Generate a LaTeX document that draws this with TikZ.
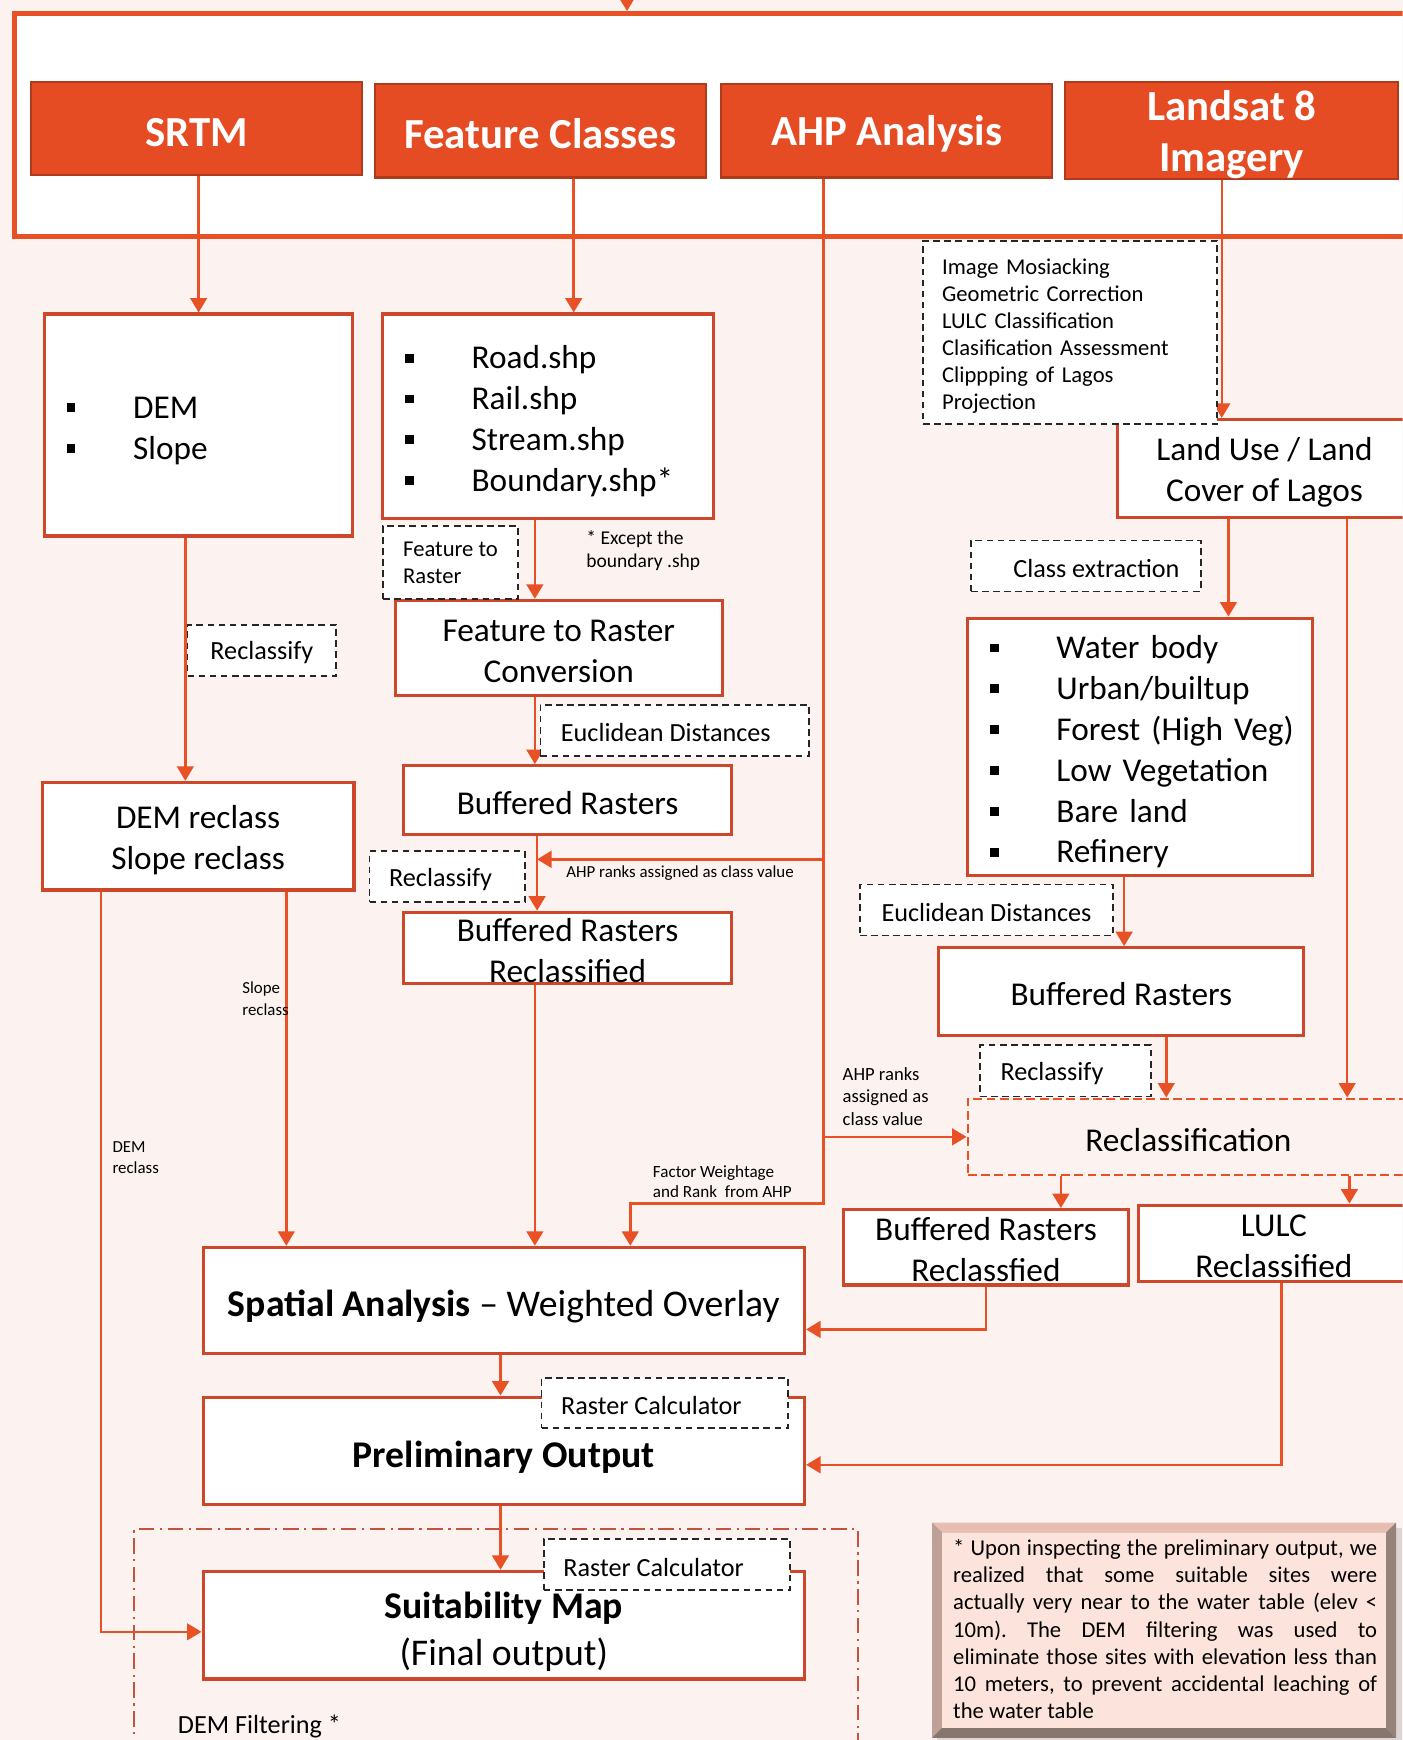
\documentclass[tikz,border=0pt]{standalone}
\usepackage{fontspec}
\setmainfont{Carlito}
\usetikzlibrary{arrows.meta,calc}
\definecolor{bg}{RGB}{252,243,241}
\definecolor{org}{RGB}{232,80,38}
\definecolor{hdr}{RGB}{230,76,35}
\definecolor{hdrd}{RGB}{175,58,28}
\definecolor{bord}{RGB}{205,72,42}
\definecolor{ddk}{RGB}{196,82,60}
\definecolor{notefill}{RGB}{252,228,220}
\newcommand\mysq{\makebox[30pt][l]{\rule[2.8pt]{4pt}{4pt}}}
\newcommand\upst[1]{\rule{0pt}{#1}}
\begin{document}
\begin{tikzpicture}[x=0.5pt,y=-0.5pt,
  spanbox/.style args={#1/#2/#3/#4}{at={({(#1+#3)/2},{(#2+#4)/2})}, minimum width={(#3-#1)*0.5pt}, minimum height={(#4-#2)*0.5pt}},
  hdrbox/.style={draw=hdrd, line width=1pt, fill=hdr, text=white, inner sep=0pt, align=center, font=\bfseries\fontsize{19.3}{23}\selectfont, execute at begin node={\rule{0pt}{16pt}}},
  box/.style={draw=bord, line width=1.4pt, fill=white, inner sep=0pt, align=center, font=\fontsize{15}{18.5}\selectfont, execute at begin node={\rule{0pt}{13pt}}},
  bigbox/.style={box, font=\fontsize{17}{21}\selectfont, execute at begin node={\rule{0pt}{17.5pt}}},
  listbox/.style={draw=bord, line width=1.4pt, fill=white, inner xsep=10pt, inner ysep=0pt, align=left, font=\fontsize{15}{18.4}\selectfont, execute at begin node={\rule{0pt}{15pt}}},
  recbox/.style={draw=org, line width=1pt, dash pattern=on 4pt off 2pt, inner sep=0pt, align=center, font=\fontsize{15}{18.5}\selectfont, execute at begin node={\rule{0pt}{13pt}}},
  dbox/.style={draw=black!85, line width=0.8pt, dash pattern=on 3pt off 2pt, fill=white, inner sep=0pt, align=center, font=\fontsize{11.8}{14}\selectfont, execute at begin node={\rule{0pt}{10.3pt}}},
  ddrect/.style={draw=ddk, line width=1pt, dash pattern=on 7pt off 2.5pt on 1pt off 2.5pt, inner sep=0pt},
  lab/.style={inner sep=0pt, align=left, anchor=west},
  conn/.style={draw=org, line width=1.1pt},
  arr/.style={conn, -{Triangle[length=6.5pt,width=7.5pt]}}
]
\path[use as bounding box, fill=bg] (0,0) rectangle (1264,1568);
\clip (0,0) rectangle (1264,1568);

% frame and headers
\node[draw=org, line width=2pt, fill=white, inner sep=0pt, spanbox=13/12/1285/213] (frame) {};
\node[hdrbox, spanbox=28/74/326/158, execute at begin node={\rule{0pt}{15pt}}] (srtm) {SRTM};
\node[hdrbox, spanbox=338/76/636/160] (fc) {Feature Classes};
\node[hdrbox, spanbox=650/76/948/160] (ahp) {AHP Analysis};
\node[hdrbox, spanbox=960/75/1260/160] (landsat) {\upst{17.5pt}Landsat 8\\Imagery};

% list boxes
\node[listbox, text width=119pt, minimum height=100pt, execute at begin node={\rule{0pt}{13pt}}] (dem) at (179,383) {\mysq DEM\\\mysq Slope};
\node[listbox, text width=129pt, minimum height=92pt] (feat) at (494,375) {\mysq Road.shp\\\mysq Rail.shp\\\mysq Stream.shp\\\mysq Boundary.shp*};
\node[listbox, text width=135.5pt, minimum height=116pt] (cls) at (1027.5,673) {\mysq\mbox{Water body}\\\mysq\mbox{Urban/builtup}\\\mysq\mbox{Forest (High Veg)}\\\mysq\mbox{Low Vegetation}\\\mysq\mbox{Bare land}\\\mysq\mbox{Refinery}};

% boxes
\node[box, spanbox=356/541/651/627] (ftrc) {\upst{12.5pt}Feature to Raster\\Conversion};
\node[box, spanbox=364/690/659/752] (bufL) {Buffered Rasters};
\node[box, spanbox=364/822/659/886] (bufRecL) {\upst{13pt}Buffered Rasters\\Reclassified};
\node[box, spanbox=38/705/319/802] (demr) {\upst{14pt}DEM reclass\\Slope reclass};
\node[box, spanbox=1007/378/1272/466] (lulc) {\upst{14pt}Land Use / Land\\Cover of Lagos};
\node[box, spanbox=846/854/1175/933] (bufR) {Buffered Rasters};
\node[recbox, spanbox=872/990/1270/1059] (recl) {Reclassification};
\node[box, spanbox=760/1090/1017/1158] (bufRecR) {\upst{12.5pt}Buffered Rasters\\Reclassfied};
\node[box, spanbox=1026/1086/1270/1155] (lulcR) {\upst{12pt}LULC\\Reclassified};
\node[bigbox, spanbox=183/1124/725/1220] (spatial) {\textbf{Spatial Analysis} \textendash{} Weighted Overlay};
\node[bigbox, spanbox=183/1259/725/1356] (prelim) {\textbf{Preliminary Output}};
\node[ddrect, spanbox=121/1378/773/1600] (filt) {};
\node[bigbox, spanbox=183/1416/725/1513] (suit) {\upst{17.75pt}\textbf{Suitability Map}\\(Final output)};

% connectors
\coordinate (topin) at (565,-10);
\draw[arr] (topin) -- (topin |- frame.north);
\draw[arr] ([xshift=1pt]srtm.south) -- ([xshift=1pt]srtm.south |- dem.north);
\draw[arr] ([xshift=15pt]fc.south) -- ([xshift=15pt]fc.south |- feat.north);
\coordinate (ahpx) at ([xshift=-28.5pt]ahp.south);
\draw[arr] (ahpx) |- ([xshift=57pt,yshift=19pt]spatial.north) -- ([xshift=57pt]spatial.north);
\coordinate (j1) at ([xshift=-13.75pt,yshift=-10.5pt]bufL.south);
\draw[arr] (ahpx |- j1) -- (j1);
\draw[arr] (ahpx |- recl.west) -- (recl.west);
\draw[arr] ([xshift=-4.5pt]landsat.south) -- ([xshift=-4.5pt]landsat.south |- lulc.north);

\draw[arr] ([xshift=-6pt]dem.south) -- ([xshift=-6pt]dem.south |- demr.north);
\draw[arr] ([xshift=-6pt]feat.south) -- ([xshift=-6pt]feat.south |- ftrc.north);
\draw[arr] ([xshift=-10.75pt]ftrc.south) -- ([xshift=-10.75pt]ftrc.south |- bufL.north);
\draw[arr] ([xshift=-13.75pt]bufL.south) -- ([xshift=-13.75pt]bufL.south |- bufRecL.north);
\draw[arr] ([xshift=-14.75pt]bufRecL.south) -- ([xshift=-14.75pt]bufRecL.south |- spatial.north);
\draw[arr] ([xshift=39.75pt]demr.south) -- ([xshift=39.75pt]demr.south |- spatial.north);
\draw[arr] ([xshift=-43.75pt]demr.south) |- ([yshift=-3pt]suit.west);
\draw[arr] ([xshift=-1.5pt]spatial.south) -- ([xshift=-1.5pt]spatial.south |- prelim.north);
\draw[arr] ([xshift=-1.5pt]prelim.south) -- ([xshift=-1.5pt]prelim.south |- suit.north);

\draw[arr] ([xshift=-16.25pt]lulc.south) -- ([xshift=-16.25pt]lulc.south |- cls.north);
\draw[arr] ([xshift=37.25pt]lulc.south) -- ([xshift=37.25pt]lulc.south |- recl.north);
\draw[arr] ([xshift=-7.25pt]cls.south) -- ([xshift=-7.25pt]cls.south |- bufR.north);
\draw[arr] ([xshift=20.25pt]bufR.south) -- ([xshift=20.25pt]bufR.south |- recl.north);
\draw[arr] ([xshift=-57.5pt]recl.south) -- ([xshift=-57.5pt]recl.south |- bufRecR.north);
\draw[arr] ([xshift=72.5pt]recl.south) -- ([xshift=72.5pt]recl.south |- lulcR.north);
\draw[arr] (bufRecR.south) |- ([yshift=-13pt]spatial.east);
\draw[arr] ([xshift=3.5pt]lulcR.south) |- ([yshift=-6.25pt]prelim.east);

% dashed label boxes
\node[dbox, align=left, inner xsep=8.5pt, text width=115.5pt, minimum height=82.5pt, font=\fontsize{10.2}{12.2}\selectfont, execute at begin node={}] (proc) at (964.5,299.5) {Image Mosiacking\\Geometric Correction\\LULC Classification\\Clasification Assessment\\Clippping of Lagos\\Projection};
\node[dbox, spanbox=169/563/303/609] (rc1) {Reclassify};
\node[dbox, spanbox=345/474/467/540, align=left, font=\fontsize{10.2}{12}\selectfont, execute at begin node={}] (f2r) {Feature to\\Raster};
\node[dbox, spanbox=487/635/729/681] (ed1) {Euclidean Distances\hspace*{8pt}};
\node[dbox, spanbox=333/767/473/813, execute at begin node={\rule{0pt}{11pt}}] (rc2) {Reclassify\hspace*{6pt}};
\node[dbox, spanbox=875/487/1082/533, execute at begin node={}] (cx) {\hspace*{9.5pt}Class extraction};
\node[dbox, spanbox=775/797/1003/843] (ed2) {Euclidean Distances};
\node[dbox, spanbox=883/942/1037/988] (rc3) {Reclassify\hspace*{12pt}};
\node[dbox, spanbox=488/1242/710/1287] (rcal1) {Raster Calculator\hspace*{12pt}};
\node[dbox, spanbox=490/1387/712/1433] (rcal2) {Raster Calculator\hspace*{12pt}};

% labels
\node[lab, font=\fontsize{7.6}{9}\selectfont] (l1) at (510,787) {AHP ranks assigned as class value};
\node[lab, font=\fontsize{7.7}{9}\selectfont] (l2) at (588,1065) {Factor Weightage\\and Rank\ \ from AHP};
\node[lab, font=\fontsize{8.4}{10.25}\selectfont] (l3) at (759,988) {AHP ranks\\assigned as\\class value};
\node[lab, font=\fontsize{7.6}{9.5}\selectfont] (l4) at (218,900) {Slope\\reclass};
\node[lab, font=\fontsize{7.6}{9.5}\selectfont] (l5) at (101,1043) {DEM\\reclass};
\node[lab, font=\fontsize{8.8}{10.5}\selectfont] (l6) at (528,496) {* Except the\\boundary .shp};
\node[lab, font=\fontsize{11.8}{14}\selectfont] (l7) at (160,1556) {DEM Filtering *};

% note box (bevel)
\fill[black, opacity=0.12] (844,1377) rectangle (1263,1571);
\fill[fill={rgb,255:red,233;green,190;blue,178}] (840,1372) -- (1258,1372) -- (1249,1381) -- (849,1381) -- cycle;
\fill[fill={rgb,255:red,190;green,160;blue,150}] (840,1372) -- (849,1381) -- (849,1557) -- (840,1566) -- cycle;
\fill[fill={rgb,255:red,150;green,130;blue,122}] (1258,1372) -- (1258,1566) -- (1249,1557) -- (1249,1381) -- cycle;
\fill[fill={rgb,255:red,135;green,118;blue,110}] (840,1566) -- (1258,1566) -- (1249,1557) -- (849,1557) -- cycle;
\fill[notefill] (849,1381) rectangle (1249,1557);
\node[inner sep=0pt, text width=191pt, align=justify, font=\fontsize{10.2}{12.3}\selectfont] (note) at (1050,1468) {\frenchspacing\tolerance=10000\hbadness=10000 * Upon inspecting the preliminary output, we\linebreak realized that some suitable sites were\linebreak actually very near to the water table (elev <\linebreak 10m). The DEM filtering was used to\linebreak eliminate those sites with elevation less than\linebreak 10 meters, to prevent accidental leaching of\linebreak the water table};
\end{tikzpicture}
\end{document}
